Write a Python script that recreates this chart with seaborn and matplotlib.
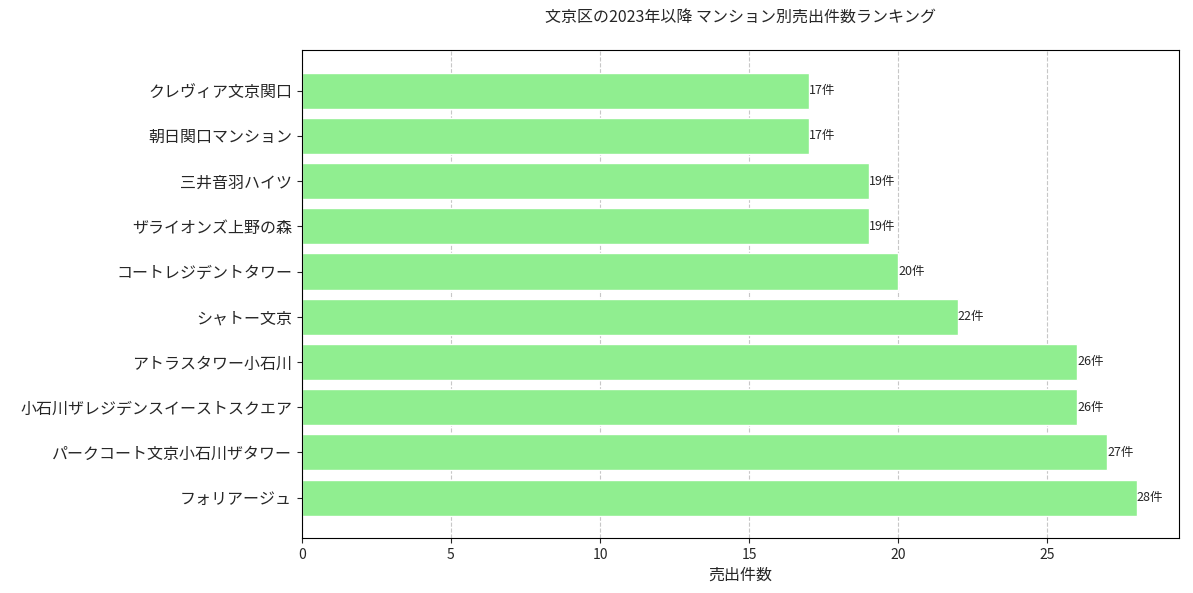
import matplotlib
matplotlib.use("Agg")
import matplotlib.pyplot as plt
import seaborn as sns
import pandas as pd

names = ["クレヴィア文京関口", "朝日関口マンション", "三井音羽ハイツ", "ザライオンズ上野の森",
         "コートレジデントタワー", "シャトー文京", "アトラスタワー小石川",
         "小石川ザレジデンスイーストスクエア", "パークコート文京小石川ザタワー", "フォリアージュ"]
counts = [17, 17, 19, 19, 20, 22, 26, 26, 27, 28]

sns.set_style("white")
plt.rcParams['font.family'] = ['Noto Sans CJK JP', 'DejaVu Sans']

df = pd.DataFrame({"name": names, "count": counts})
fig, ax = plt.subplots(figsize=(11.93, 5.93), dpi=100)
sns.barplot(data=df, x="count", y="name", orient="h", color="#90EE90",
            saturation=1, width=0.8, ax=ax)
for i, v in enumerate(counts):
    ax.text(v, i, f"{v}件", va="center", ha="left", fontsize=9)

ax.set_ylim(9.89, -0.89)
ax.set_xlim(0, 29.4)
ax.xaxis.grid(True, linestyle="--", color="#b0b0b0", alpha=0.7)
ax.set_axisbelow(True)
for s in ax.spines.values():
    s.set_visible(True)
    s.set_color("black")
ax.tick_params(axis="y", labelsize=11.5, left=True)
ax.tick_params(axis="x", labelsize=10, bottom=True)
ax.set_xlabel("売出件数", fontsize=11.5)
ax.set_ylabel("")
ax.set_title("文京区の2023年以降 マンション別売出件数ランキング", fontsize=11.5, pad=20)
plt.subplots_adjust(left=0.253, right=0.988, top=0.915, bottom=0.093)
fig.savefig("out.png", dpi=100)
